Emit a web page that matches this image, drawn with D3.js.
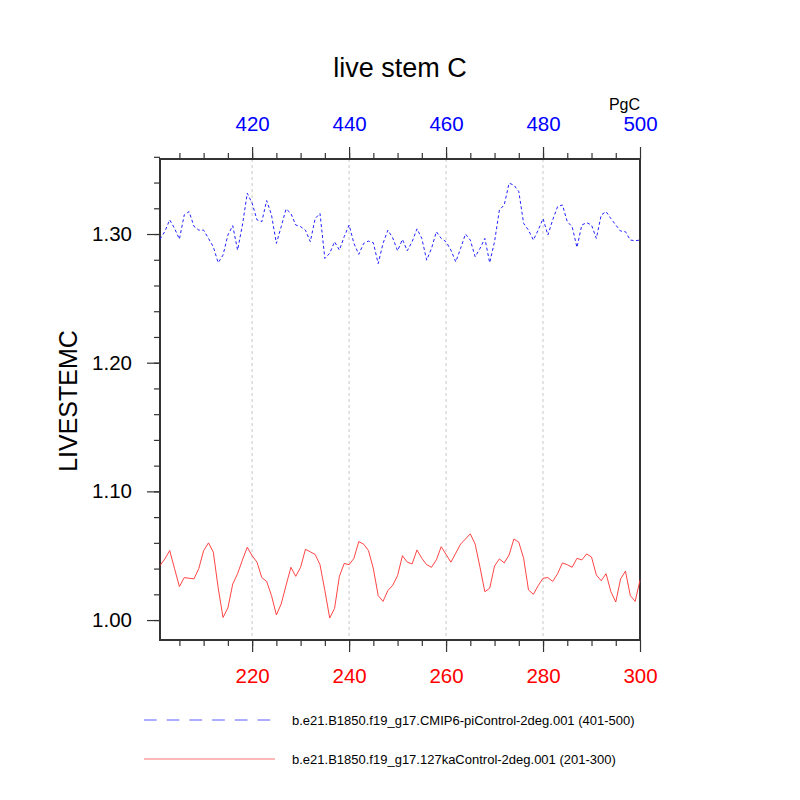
<html>
<script src="https://d3js.org/d3.v7.min.js"></script>
<head>
<style>
  body { margin: 0; background: #fff; }
  text { font-family: "Liberation Sans", Arial, sans-serif; }
</style>
</head>
<body>
<svg id="my_svg" width="800" height="800"></svg>
<script>
  // years for each run
  const ctrlYears = d3.range(201, 301)   // 127ka control, bottom axis
  const piYears = d3.range(401, 501)     // piControl, top axis

  const ctrlValues = [
    1.0423, 1.0475, 1.054, 1.040, 1.026, 1.033, 1.0325, 1.032, 1.040, 1.054,
    1.060, 1.0527, 1.025, 1.002, 1.0094, 1.028, 1.036, 1.0467, 1.0566, 1.050,
    1.045, 1.033, 1.030, 1.019, 1.004, 1.0125, 1.027, 1.041, 1.034, 1.041,
    1.055, 1.053, 1.051, 1.043, 1.023, 1.0016, 1.009, 1.034, 1.044, 1.043,
    1.048, 1.061, 1.059, 1.054, 1.040, 1.019, 1.0145, 1.023, 1.027, 1.0345,
    1.050, 1.045, 1.0436, 1.0545, 1.048, 1.043, 1.041, 1.0468, 1.057, 1.051,
    1.045, 1.052, 1.059, 1.063, 1.067, 1.059, 1.041, 1.022, 1.0247, 1.042,
    1.0475, 1.0444, 1.0506, 1.063, 1.0605, 1.048, 1.0234, 1.020, 1.0267, 1.0325,
    1.033, 1.030, 1.036, 1.0444, 1.043, 1.041, 1.048, 1.0467, 1.0514, 1.049,
    1.035, 1.0306, 1.036, 1.022, 1.014, 1.032, 1.038, 1.019, 1.0145, 1.031
  ]

  const piValues = [
    1.296, 1.302, 1.311, 1.3044, 1.296, 1.3148, 1.3174, 1.306, 1.303, 1.303,
    1.2966, 1.290, 1.2777, 1.2836, 1.2992, 1.3065, 1.2875, 1.307, 1.3317, 1.324,
    1.311, 1.3096, 1.326, 1.3148, 1.2927, 1.3057, 1.3195, 1.316, 1.307, 1.3057,
    1.303, 1.294, 1.312, 1.316, 1.281, 1.285, 1.294, 1.2875, 1.298, 1.307,
    1.2927, 1.2842, 1.2927, 1.2945, 1.2932, 1.277, 1.2927, 1.303, 1.297, 1.287,
    1.2958, 1.287, 1.294, 1.304, 1.2966, 1.2797, 1.2888, 1.3018, 1.2966, 1.294,
    1.2875, 1.2784, 1.2888, 1.300, 1.2953, 1.2823, 1.2888, 1.2966, 1.2777, 1.294,
    1.3187, 1.3226, 1.3395, 1.338, 1.333, 1.3083, 1.303, 1.2953, 1.303, 1.312,
    1.2992, 1.311, 1.3213, 1.3226, 1.3096, 1.3057, 1.2896, 1.307, 1.3088, 1.307,
    1.2966, 1.3148, 1.3174, 1.312, 1.307, 1.3023, 1.3018, 1.2953, 1.2948, 1.2953
  ]

  const yTicks = [1.00, 1.10, 1.20, 1.30]
  const ctrlTicks = [220, 240, 260, 280, 300]
  const piTicks = [420, 440, 460, 480, 500]

  const titleText = "live stem C"
  const yLabel = "LIVESTEMC"
  const unitsText = "PgC"
  const piName = "b.e21.B1850.f19_g17.CMIP6-piControl-2deg.001 (401-500)"
  const ctrlName = "b.e21.B1850.f19_g17.127kaControl-2deg.001 (201-300)"

  const plotL = 160, plotR = 640, plotT = 159, plotB = 640

  const svg = d3.select("#my_svg")

  const xb = d3.scaleLinear().domain([201, 300]).range([plotL, plotR])
  const xt = d3.scaleLinear().domain([401, 500]).range([plotL, plotR])
  const ys = d3.scaleLinear().domain([0.9845, 1.3583]).range([plotB, plotT])

  // vertical grid lines at major ticks
  svg.append("g")
    .selectAll("line")
    .data(ctrlTicks.filter(d => d < 300))
    .enter()
    .append("line")
    .attr("x1", d => xb(d)).attr("x2", d => xb(d))
    .attr("y1", plotT).attr("y2", plotB)
    .attr("stroke", "#c8c8c8")
    .attr("stroke-width", 1)
    .attr("stroke-dasharray", "3,3")

  // axes
  function styleAxis(g) {
    g.select(".domain").remove()
    g.selectAll("line").attr("stroke", "#333").attr("stroke-width", 1.2)
    g.selectAll("text").style("font-family", "'Liberation Sans', Arial, sans-serif")
  }

  // minor ticks
  svg.append("g")
    .attr("transform", "translate(0," + plotB + ")")
    .call(d3.axisBottom(xb).tickValues(d3.range(205, 300, 5)).tickSize(6).tickFormat(""))
    .call(styleAxis)
  svg.append("g")
    .attr("transform", "translate(0," + plotT + ")")
    .call(d3.axisTop(xt).tickValues(d3.range(405, 500, 5)).tickSize(6).tickFormat(""))
    .call(styleAxis)
  svg.append("g")
    .attr("transform", "translate(" + plotL + ",0)")
    .call(d3.axisLeft(ys).tickValues(d3.range(1.00, 1.36, 0.02)).tickSize(6).tickFormat(""))
    .call(styleAxis)

  // major ticks
  svg.append("g")
    .attr("transform", "translate(0," + plotB + ")")
    .call(d3.axisBottom(xb).tickValues(ctrlTicks).tickSize(12).tickPadding(16).tickFormat(d3.format("d")))
    .call(styleAxis)
    .call(g => g.selectAll("text").attr("fill", "red").style("font-size", "20.5px"))
  svg.append("g")
    .attr("transform", "translate(0," + plotT + ")")
    .call(d3.axisTop(xt).tickValues(piTicks).tickSize(12).tickPadding(16).tickFormat(d3.format("d")))
    .call(styleAxis)
    .call(g => g.selectAll("text").attr("fill", "blue").style("font-size", "20.5px"))
  svg.append("g")
    .attr("transform", "translate(" + plotL + ",0)")
    .call(d3.axisLeft(ys).tickValues(yTicks).tickSize(13).tickPadding(15).tickFormat(d3.format(".2f")))
    .call(styleAxis)
    .call(g => g.selectAll("text").attr("fill", "black").style("font-size", "20.5px"))

  // frame
  svg.append("rect")
    .attr("x", plotL).attr("y", plotT)
    .attr("width", plotR - plotL).attr("height", plotB - plotT)
    .attr("fill", "none")
    .attr("stroke", "#333")
    .attr("stroke-width", 2)

  // data lines
  const lineCtrl = d3.line().x((d, i) => xb(ctrlYears[i])).y(d => ys(d))
  const linePi = d3.line().x((d, i) => xt(piYears[i])).y(d => ys(d))

  svg.append("path")
    .datum(ctrlValues)
    .attr("d", lineCtrl)
    .attr("fill", "none")
    .attr("stroke", "#ff3030")
    .attr("stroke-width", 0.9)

  svg.append("path")
    .datum(piValues)
    .attr("d", linePi)
    .attr("fill", "none")
    .attr("stroke", "#2020ff")
    .attr("stroke-width", 1)
    .attr("stroke-dasharray", "3,2.5")

  // titles
  svg.append("text")
    .attr("x", 400).attr("y", 77)
    .attr("text-anchor", "middle")
    .style("font-size", "27px")
    .text(titleText)

  svg.append("text")
    .attr("x", 640).attr("y", 110)
    .attr("text-anchor", "end")
    .style("font-size", "16px")
    .text(unitsText)

  svg.append("text")
    .attr("transform", "translate(77,401) rotate(-90)")
    .attr("text-anchor", "middle")
    .style("font-size", "25px")
    .text(yLabel)

  // legend
  const legend = [
    { name: piName, color: "#5a5aff", dash: "12.7,10", y: 720, x2: 271 },
    { name: ctrlName, color: "#ff7070", dash: null, y: 759, x2: 275 }
  ]
  legend.forEach(function (d) {
    svg.append("line")
      .attr("x1", 144).attr("x2", d.x2)
      .attr("y1", d.y).attr("y2", d.y)
      .attr("stroke", d.color)
      .attr("stroke-width", 1)
      .attr("stroke-dasharray", d.dash)
    svg.append("text")
      .attr("x", 292).attr("y", d.y + 4.5)
      .style("font-size", "13px")
      .text(d.name)
  })
</script>
</body>
</html>
